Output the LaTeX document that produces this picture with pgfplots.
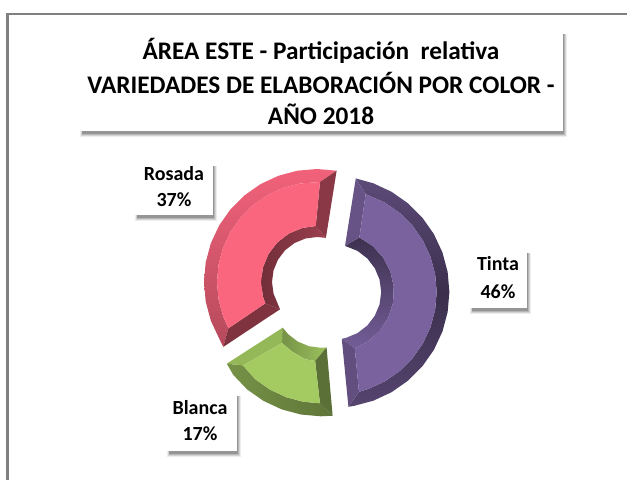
\documentclass[border=0pt]{standalone}
\usepackage{fontspec}
\setmainfont{Carlito}
\usepackage{pgfplots}
\pgfplotsset{compat=1.18}
\definecolor{pface}{HTML}{7A629F}
\definecolor{rface}{HTML}{FB667F}
\definecolor{gface}{HTML}{A4CB62}
\newcommand{\shlayer}[6]{\fill[black,opacity=#6] (axis cs:#1+3-#5,#4-2.5-#5) rectangle (axis cs:#3+0.5+#5,#2-3);}
\newcommand{\shbox}[4]{% x1 ytop x2 ybottom (image pixels, y flipped already)
  \shlayer{#1}{#2}{#3}{#4}{3.5}{.07}
  \shlayer{#1}{#2}{#3}{#4}{2.5}{.10}
  \shlayer{#1}{#2}{#3}{#4}{1.5}{.14}
  \shlayer{#1}{#2}{#3}{#4}{0.7}{.18}
  \fill[white] (axis cs:#1,#4) rectangle (axis cs:#3,#2);
}
\begin{document}
\begin{tikzpicture}
\begin{axis}[
  scale only axis, width=627pt, height=480pt,
  xmin=0, xmax=627, ymin=0, ymax=480,
  hide axis, clip=true,
]
\fill[white] (axis cs:0,0) rectangle (axis cs:627,480);
% frame
\addplot[draw=black!50, line width=2.4pt] coordinates {(7.5,0) (7.5,466) (627,466)};

% ---------- Tinta 46% ----------
\addplot[data cs=polar, xshift=333.7pt, yshift=188pt, draw=none, top color=pface!76!black, bottom color=pface!70!black, middle color=pface!48!black] coordinates {
 (79,115.7)(70,115.7)(60,115.7)(50,115.7)(40,115.7)(30,115.7)(20,115.7)(10,115.7)(0,115.7)(-10,115.7)(-20,115.7)(-30,115.7)(-40,115.7)(-50,115.7)(-60,115.7)(-70,115.7)(-80,115.7)(-82.7,115.7)
 (-75.8,103)(-70,103)(-60,103)(-50,103)(-40,103)(-30,103)(-20,103)(-10,103)(0,103)(10,103)(20,103)(30,103)(40,103)(50,103)(60,103)(71.9,103)} -- cycle;
\addplot[data cs=polar, xshift=333.7pt, yshift=188pt, draw=none, top color=pface!50!black, bottom color=pface!95!black] coordinates {
 (76.2,47.5)(60,47.5)(45,47.5)(30,47.5)(15,47.5)(0,47.5)(-15,47.5)(-30,47.5)(-45,47.5)(-60,47.5)(-75,47.5)(-80.2,47.5)
 (-69.5,60.3)(-55,60.3)(-40,60.3)(-25,60.3)(-10,60.3)(5,60.3)(20,60.3)(35,60.3)(50,60.3)(64.8,60.3)} -- cycle;
\addplot[data cs=polar, xshift=333.7pt, yshift=188pt, draw=none, fill=pface!85!black] coordinates {
 (79,115.7)(71.9,103)(64.8,60.3)(76.2,47.5)} -- cycle;
\addplot[data cs=polar, xshift=333.7pt, yshift=188pt, draw=none, fill=pface!80!black] coordinates {
 (-82.7,115.7)(-75.8,103)(-69.5,60.3)(-80.2,47.5)} -- cycle;
\addplot[data cs=polar, xshift=333.7pt, yshift=188pt, draw=none, fill=pface] coordinates {
 (71.9,103)(60,103)(50,103)(40,103)(30,103)(20,103)(10,103)(0,103)(-10,103)(-20,103)(-30,103)(-40,103)(-50,103)(-60,103)(-70,103)(-75.8,103)
 (-69.5,60.3)(-55,60.3)(-40,60.3)(-25,60.3)(-10,60.3)(5,60.3)(20,60.3)(35,60.3)(50,60.3)(64.8,60.3)} -- cycle;

% ---------- Rosada 37% ----------
\addplot[data cs=polar, xshift=317pt, yshift=198pt, draw=none, top color=rface!96!black, bottom color=rface!72!black] coordinates {
 (80,113)(90,113)(100,113)(110,113)(120,113)(130,113)(140,113)(150,113)(160,113)(170,113)(180,113)(190,113)(200,113)(210,113)(214.7,114)
 (207.6,100)(200,100)(190,100)(180,100)(170,100)(160,100)(150,100)(140,100)(130,100)(120,100)(110,100)(100,100)(88.3,100)} -- cycle;
\addplot[data cs=polar, xshift=317pt, yshift=198pt, draw=none, left color=rface!45!black, right color=rface!62!black] coordinates {
 (78.6,45)(90,45)(105,45)(120,45)(135,45)(150,45)(165,45)(180,45)(195,45)(210,45)(216.4,46)
 (202.5,56)(195,56)(180,56)(165,56)(150,56)(135,56)(120,56)(105,56)(91.3,56)} -- cycle;
\addplot[data cs=polar, xshift=317pt, yshift=198pt, draw=none, fill=rface!55!black] coordinates {
 (80,113)(88.3,100)(91.3,56)(78.6,45)} -- cycle;
\addplot[data cs=polar, xshift=317pt, yshift=198pt, draw=none, fill=rface!50!black] coordinates {
 (214.7,114)(207.6,100)(202.5,56)(216.4,46)} -- cycle;
\addplot[data cs=polar, xshift=317pt, yshift=198pt, draw=none, fill=rface] coordinates {
 (88.3,100)(100,100)(110,100)(120,100)(130,100)(140,100)(150,100)(160,100)(170,100)(180,100)(190,100)(200,100)(207.6,100)
 (202.5,56)(195,56)(180,56)(165,56)(150,56)(135,56)(120,56)(105,56)(91.3,56)} -- cycle;

% ---------- Blanca 17% ----------
\addplot[data cs=polar, xshift=321pt, yshift=178.7pt, draw=none, left color=gface!72!black, right color=gface!58!black] coordinates {
 (213.5,113)(220,114.5)(230,115)(240,115)(250,115)(260,115)(270,115)(275.8,115)
 (269.4,102)(260,102)(250,102)(240,102)(230,102)(219.4,101)} -- cycle;
\addplot[data cs=polar, xshift=321pt, yshift=178.7pt, draw=none, left color=gface!72!black, right color=gface!95!black] coordinates {
 (214.6,46.5)(225,46.5)(240,46.5)(255,46.5)(270,46.5)(276.9,46.5)
 (264.4,60)(255,60)(240,58)(226.9,57)} -- cycle;
\addplot[data cs=polar, xshift=321pt, yshift=178.7pt, draw=none, fill=gface!90!black] coordinates {
 (213.5,113)(219.4,101)(226.9,57)(214.6,46.5)} -- cycle;
\addplot[data cs=polar, xshift=321pt, yshift=178.7pt, draw=none, fill=gface!55!black] coordinates {
 (275.8,115)(269.4,102)(264.4,60)(276.9,46.5)} -- cycle;
\addplot[data cs=polar, xshift=321pt, yshift=178.7pt, draw=none, fill=gface] coordinates {
 (219.4,101)(230,102)(240,102)(250,102)(260,102)(269.4,102)
 (264.4,60)(255,60)(240,58)(226.9,57)} -- cycle;

% ---------- boxes and text ----------
\shbox{80}{449}{563}{349}
\shbox{135}{317}{213}{265}
\shbox{470}{230}{527}{172}
\shbox{167}{87}{237}{29}

\node[font=\fontsize{25.3}{25}\selectfont\bfseries, anchor=center] at (axis cs:321,429) {ÁREA ESTE - Participación\ \ relativa};
\node[font=\fontsize{25.3}{25}\selectfont\bfseries, anchor=center] at (axis cs:321,397) {VARIEDADES DE ELABORACIÓN POR COLOR -};
\node[font=\fontsize{25.3}{25}\selectfont\bfseries, anchor=center] at (axis cs:321,366) {AÑO 2018};

\node[font=\fontsize{20}{20}\selectfont\bfseries] at (axis cs:174,306) {Rosada};
\node[font=\fontsize{20}{20}\selectfont\bfseries] at (axis cs:174,280) {37\%};
\node[font=\fontsize{20}{20}\selectfont\bfseries] at (axis cs:498,216) {Tinta};
\node[font=\fontsize{20}{20}\selectfont\bfseries] at (axis cs:498,188) {46\%};
\node[font=\fontsize{20}{20}\selectfont\bfseries] at (axis cs:200,72) {Blanca};
\node[font=\fontsize{20}{20}\selectfont\bfseries] at (axis cs:200,46) {17\%};
\end{axis}
\end{tikzpicture}
\end{document}
